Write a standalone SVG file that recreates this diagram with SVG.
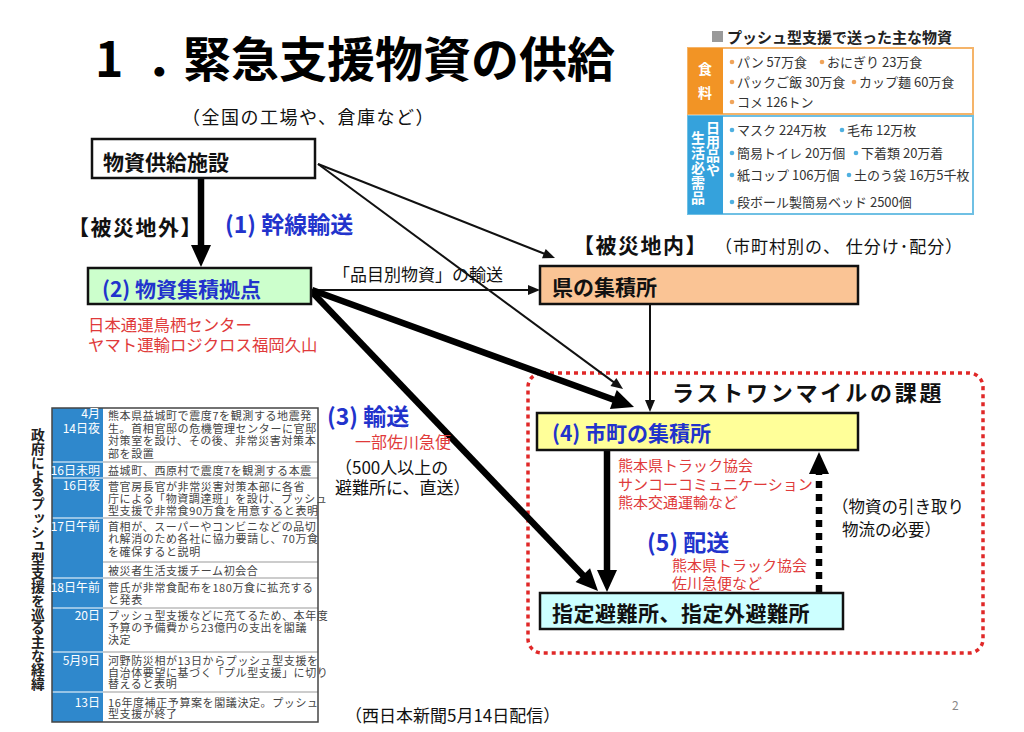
<svg xmlns="http://www.w3.org/2000/svg" width="1024" height="732" viewBox="0 0 1024 732">
<style>
text{font-family:"Noto Sans CJK JP","Noto Sans",sans-serif;}
.b{font-weight:700;}
.blk{fill:#111;}
.blue{fill:#2233cc;font-weight:700;}
.red{fill:#e03a3a;}
.box{stroke:#111;stroke-width:2.5;}
.thin{stroke:#111;stroke-width:2;fill:none;}
.thick{stroke:#000;stroke-width:6.5;fill:none;}
.item{font-size:13px;fill:#333;}
.vt{writing-mode:vertical-rl;}
.wv{fill:#fff;font-weight:700;font-size:14px;}
.tb{font-size:11px;letter-spacing:0.6px;fill:#444;}
.dt{font-size:12px;fill:#fff;}
.sep{stroke:#999;stroke-width:1;}
</style>
<defs>
<marker id="ah" markerUnits="userSpaceOnUse" markerWidth="14" markerHeight="10" refX="2" refY="5" orient="auto" overflow="visible"><path d="M0,0 L12,5 L0,10 z" fill="#111"/></marker>
<marker id="AH" markerUnits="userSpaceOnUse" markerWidth="24" markerHeight="22" refX="2" refY="10" orient="auto" overflow="visible"><path d="M0,0 L22,10 L0,20 z" fill="#000"/></marker>
</defs>
<rect width="1024" height="732" fill="#fff"/>

<!-- Title -->
<text class="b" font-size="48" font-weight="900" fill="#000"><tspan x="95" y="77">1</tspan><tspan x="146" y="77">．</tspan><tspan x="183" y="77">緊急支援物資の供給</tspan></text>
<text x="182" y="124" font-size="18" letter-spacing="1.5" fill="#111">（全国の工場や、倉庫など）</text>

<!-- Top-right table -->
<g id="table-push">
<rect x="712" y="31" width="11" height="11" fill="#9a9a9a"/>
<text x="727" y="43" class="b" font-size="15" fill="#222">プッシュ型支援で送った主な物資</text>
<rect x="688" y="48" width="285" height="66" fill="#fff" stroke="#f5b469" stroke-width="2"/>
<rect x="688" y="48" width="35" height="66" fill="#f29425"/>
<text class="wv vt" x="705" y="62" font-size="15" letter-spacing="10">食料</text>
<rect x="688" y="116" width="285" height="98" fill="#fff" stroke="#6fc0e4" stroke-width="2"/>
<rect x="688" y="116" width="35" height="98" fill="#35a2dc"/>
<text class="wv vt" x="713" y="121">日用品や</text>
<text class="wv vt" x="698" y="131" letter-spacing="1">生活必需品</text>
<g fill="#f0a45a">
<circle cx="732" cy="62" r="2.3"/><circle cx="822" cy="62" r="2.3"/>
<circle cx="732" cy="82" r="2.3"/><circle cx="854" cy="82" r="2.3"/>
<circle cx="732" cy="102" r="2.3"/>
</g>
<g fill="#4fb0e0">
<circle cx="732" cy="130" r="2.3"/><circle cx="842" cy="130" r="2.3"/>
<circle cx="732" cy="153" r="2.3"/><circle cx="856" cy="153" r="2.3"/>
<circle cx="732" cy="175" r="2.3"/><circle cx="849" cy="175" r="2.3"/>
<circle cx="732" cy="202" r="2.3"/>
</g>
<text class="item" x="737" y="67">パン 57万食</text>
<text class="item" x="827" y="67">おにぎり 23万食</text>
<text class="item" x="737" y="87">パックご飯 30万食</text>
<text class="item" x="859" y="87">カップ麺 60万食</text>
<text class="item" x="737" y="107">コメ 126トン</text>
<text class="item" x="737" y="135">マスク 224万枚</text>
<text class="item" x="847" y="135">毛布 12万枚</text>
<text class="item" x="737" y="158">簡易トイレ 20万個</text>
<text class="item" x="861" y="158">下着類 20万着</text>
<text class="item" x="737" y="180">紙コップ 106万個</text>
<text class="item" x="854" y="180">土のう袋 16万5千枚</text>
<text class="item" x="737" y="207">段ボール製簡易ベッド 2500個</text>
</g>

<!-- Bottom-left table -->
<g id="table-history">
<text class="b vt" x="38" y="428" font-size="13.8" fill="#222">政府によるプッシュ型支援を巡る主な経緯</text>
<rect x="52" y="408" width="266" height="314" fill="#fff"/>
<rect x="52" y="408" width="51" height="314" fill="#2f88cc"/>
<g stroke="#fff" stroke-width="1.2">
<line x1="52" y1="462" x2="103" y2="462"/><line x1="52" y1="478" x2="103" y2="478"/><line x1="52" y1="518" x2="103" y2="518"/><line x1="52" y1="578" x2="103" y2="578"/><line x1="52" y1="608" x2="103" y2="608"/><line x1="52" y1="652" x2="103" y2="652"/><line x1="52" y1="692" x2="103" y2="692"/>
</g>
<g class="sep">
<line x1="103" y1="462" x2="318" y2="462"/><line x1="103" y1="478" x2="318" y2="478"/><line x1="103" y1="518" x2="318" y2="518"/><line x1="103" y1="562" x2="318" y2="562"/><line x1="103" y1="578" x2="318" y2="578"/><line x1="103" y1="608" x2="318" y2="608"/><line x1="103" y1="652" x2="318" y2="652"/><line x1="103" y1="692" x2="318" y2="692"/>
</g>
<rect x="52" y="408" width="266" height="314" fill="none" stroke="#444" stroke-width="1.5"/>
<g class="dt" text-anchor="end">
<text><tspan x="100" y="418">4月</tspan><tspan x="100" y="432.5">14日夜</tspan></text>
<text x="100" y="474.5">16日未明</text>
<text x="100" y="490">16日夜</text>
<text x="100" y="531">17日午前</text>
<text x="100" y="592">18日午前</text>
<text x="100" y="619.5">20日</text>
<text x="100" y="664.5">5月9日</text>
<text x="100" y="706.5">13日</text>
</g>
<g class="tb">
<text><tspan x="108" y="419.5">熊本県益城町で震度7を観測する地震発</tspan><tspan x="108" y="432.5">生。首相官邸の危機管理センターに官邸</tspan><tspan x="108" y="445">対策室を設け、その後、非常災害対策本</tspan><tspan x="108" y="457.5">部を設置</tspan></text>
<text x="108" y="474.5">益城町、西原村で震度7を観測する本震</text>
<text><tspan x="108" y="491">菅官房長官が非常災害対策本部に各省</tspan><tspan x="108" y="503">庁による「物資調達班」を設け、プッシュ</tspan><tspan x="108" y="515">型支援で非常食90万食を用意すると表明</tspan></text>
<text><tspan x="108" y="531">首相が、スーパーやコンビニなどの品切</tspan><tspan x="108" y="543">れ解消のため各社に協力要請し、70万食</tspan><tspan x="108" y="555.5">を確保すると説明</tspan></text>
<text x="108" y="574.5">被災者生活支援チーム初会合</text>
<text><tspan x="108" y="592">菅氏が非常食配布を180万食に拡充する</tspan><tspan x="108" y="604">と発表</tspan></text>
<text><tspan x="108" y="619.5">プッシュ型支援などに充てるため、本年度</tspan><tspan x="108" y="631.5">予算の予備費から23億円の支出を閣議</tspan><tspan x="108" y="644">決定</tspan></text>
<text><tspan x="108" y="664.5">河野防災相が13日からプッシュ型支援を</tspan><tspan x="108" y="676.5">自治体要望に基づく「プル型支援」に切り</tspan><tspan x="108" y="688">替えると表明</tspan></text>
<text><tspan x="108" y="706.5">16年度補正予算案を閣議決定。プッシュ</tspan><tspan x="108" y="718">型支援が終了</tspan></text>
</g>
</g>

<!-- Last one mile region -->
<rect x="528" y="373" width="455" height="280" rx="14" fill="none" stroke="#e02828" stroke-width="3.5" stroke-dasharray="4,4"/>
<text x="672" y="401" class="b" font-size="22" letter-spacing="2.8" fill="#111">ラストワンマイルの課題</text>

<!-- Connectors -->
<g id="connectors">
<line class="thick" x1="201" y1="178" x2="201" y2="247" stroke-width="7" marker-end="url(#AH)"/>
<line class="thin" x1="318" y1="164" x2="545.7" y2="254.3" marker-end="url(#ah)"/>
<line class="thin" x1="318" y1="164" x2="615" y2="383.1" marker-end="url(#ah)"/>
<line class="thin" x1="312" y1="290" x2="530" y2="290" marker-end="url(#ah)"/>
<line class="thick" x1="312" y1="290" x2="615.2" y2="400.2" marker-end="url(#AH)"/>
<line class="thick" x1="312" y1="292" x2="584.2" y2="576.5" marker-end="url(#AH)"/>
<line class="thin" x1="650" y1="304" x2="650" y2="402" marker-end="url(#ah)"/>
<line class="thick" x1="607" y1="450" x2="607" y2="572" stroke-width="7" marker-end="url(#AH)"/>
<line class="thick" x1="819" y1="592" x2="819" y2="472" stroke-width="7" stroke-dasharray="7,6" marker-end="url(#AH)"/>
</g>

<!-- Nodes -->
<g id="node-supply">
<rect class="box" x="92" y="139" width="223" height="39" fill="#fff" stroke-width="2"/>
<text x="103" y="170" class="b blk" font-size="21">物資供給施設</text>
</g>
<g id="label-outside">
<text x="68" y="235" class="b blk" font-size="21" letter-spacing="1.5">【被災地外】</text>
</g>
<g id="label-trunk">
<text x="225" y="233" class="blue" font-size="23">(1) 幹線輸送</text>
</g>
<g id="node-hub">
<rect class="box" x="88" y="268" width="223" height="36" fill="#ccffcc"/>
<text x="102" y="297" class="blue" font-size="21">(2) 物資集積拠点</text>
<text x="88" y="331" class="red" font-size="16.4">日本通運鳥栖センター</text>
<text x="88" y="351" class="red" font-size="16.4">ヤマト運輸ロジクロス福岡久山</text>
</g>
<g id="label-items">
<text x="333" y="281" font-size="17" fill="#111">「品目別物資」の輸送</text>
</g>
<g id="node-pref">
<text x="573" y="253" class="b blk" font-size="21" letter-spacing="1.5">【被災地内】</text>
<text x="715" y="253" font-size="17" letter-spacing="1" fill="#111">（市町村別の、 仕分け･配分）</text>
<rect class="box" x="540" y="266" width="318" height="38" fill="#fac495"/>
<text x="552" y="295" class="b blk" font-size="21">県の集積所</text>
</g>
<g id="label-transport">
<text x="327" y="425" class="blue" font-size="23">(3) 輸送</text>
<text x="355" y="448" class="red" font-size="16">一部佐川急便</text>
<text x="335" y="474" font-size="17" fill="#111">（500人以上の</text>
<text x="335" y="494" font-size="17" fill="#111">避難所に、直送）</text>
</g>
<g id="node-city">
<rect class="box" x="537" y="413" width="321" height="37" fill="#ffff99"/>
<text x="552" y="441" class="blue" font-size="21">(4) 市町の集積所</text>
<text x="618" y="471" class="red" font-size="15">熊本県トラック協会</text>
<text x="618" y="490" class="red" font-size="15">サンコーコミュニケーション</text>
<text x="618" y="508" class="red" font-size="15">熊本交通運輸など</text>
</g>
<g id="label-delivery">
<text x="647" y="551" class="blue" font-size="23">(5) 配送</text>
<text x="672" y="571" class="red" font-size="15">熊本県トラック協会</text>
<text x="672" y="589" class="red" font-size="15">佐川急便など</text>
<text x="832" y="513" font-size="16.5" fill="#111">（物資の引き取り</text>
<text x="842" y="536" font-size="16.5" fill="#111">物流の必要）</text>
</g>
<g id="node-shelter">
<rect class="box" x="540" y="593" width="303" height="36" fill="#ccffff"/>
<text x="552" y="621" class="b blk" font-size="21" letter-spacing="0.5">指定避難所、指定外避難所</text>
</g>

<text x="952" y="710" font-size="12" fill="#888">2</text>
<text x="345" y="722" font-size="17" fill="#111">（西日本新聞5月14日配信）</text>
</svg>
